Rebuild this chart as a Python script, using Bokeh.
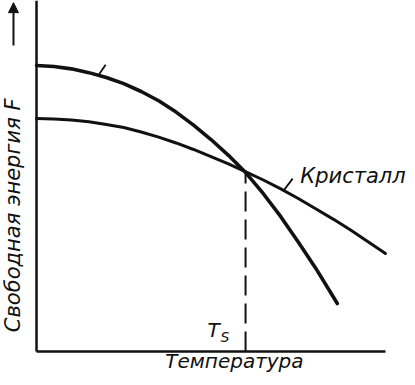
import math
from bokeh.plotting import figure
from bokeh.models import Range1d, Label, Arrow, NormalHead
from bokeh.embed import file_html
from bokeh.resources import INLINE

# ---- data (arbitrary units) ----
temperature_liquid = [0, 0.5, 1, 1.5, 2, 2.5, 3, 3.5, 4, 4.5, 5, 5.5, 6, 6.5, 7, 7.5, 8, 8.62]
energy_liquid = [8.34, 8.31, 8.24, 8.13, 7.99, 7.81, 7.58, 7.31, 6.98, 6.60, 6.18, 5.72, 5.21, 4.60, 3.93, 3.19, 2.43, 1.40]

temperature_crystal = [0, 0.5, 1, 1.5, 2, 2.5, 3, 3.5, 4, 4.5, 5, 5.5, 6, 6.5, 7, 7.5, 8, 8.5, 9, 9.5, 10]
energy_crystal = [6.79, 6.78, 6.75, 6.70, 6.62, 6.53, 6.40, 6.25, 6.08, 5.89, 5.68, 5.47, 5.24, 5.00, 4.74, 4.46, 4.16, 3.86, 3.54, 3.20, 2.86]

ts_temperature = 5.99      # T_S, intersection of the curves
ts_energy = 5.22

axis_x_end = 10.0          # end of the temperature axis
liquid_mark_x = [1.78, 1.98]     # small stroke on the upper curve
liquid_mark_y = [8.06, 8.36]
crystal_leader_x = [7.08, 7.34]  # leader to the label "Кристалл"
crystal_leader_y = [4.69, 5.04]

x_title = "Температура"
y_title = "Свободная энергия F"
crystal_label = "Кристалл"
ts_main, ts_sub = "T", "S"

FONT = "DejaVu Sans"
INK = "#111111"

X_RANGE = Range1d(-1.032, 10.860)
Y_RANGE = Range1d(-0.991, 10.233)

p = figure(width=415, height=385, output_backend="svg", toolbar_location=None,
           x_range=X_RANGE, y_range=Y_RANGE,
           min_border=0)
p.axis.visible = False
p.grid.visible = False
p.outline_line_color = None
p.background_fill_color = "white"
p.border_fill_color = "white"

# axis lines (drawn in data space)
p.segment(x0=[0, 0], y0=[0, 0], x1=[axis_x_end, 0], y1=[0, Y_RANGE.end],
          line_width=2.5, line_color=INK)

# curves
p.line(temperature_liquid, energy_liquid, line_width=3.6, line_color=INK, line_join="round", line_cap="round")
p.line(temperature_crystal, energy_crystal, line_width=3, line_color=INK, line_join="round", line_cap="round")

# dashed T_S line
p.segment(x0=[ts_temperature], y0=[0], x1=[ts_temperature], y1=[ts_energy],
          line_width=2, line_color=INK, line_dash="20 8")

# small strokes
p.line(liquid_mark_x, liquid_mark_y, line_width=1.8, line_color=INK)
p.line(crystal_leader_x, crystal_leader_y, line_width=1.8, line_color=INK)

def lab(x, y, text, size, **kw):
    p.add_layout(Label(x=x, y=y, text=text, text_font=FONT, text_font_style="italic",
                       text_font_size=f"{size}px", text_color=INK, **kw))

lab(7.56, 4.78, crystal_label, 21)
lab(5.67, -0.64, x_title, 20, text_align="center")
lab(4.90, 0.29, ts_main, 20)
lab(5.27, 0.20, ts_sub, 14)
lab(-0.33, 3.97, y_title, 21, text_align="center", angle=math.pi / 2)

# arrow next to the ordinate
p.add_layout(Arrow(x_start=-0.66, y_start=8.92, x_end=-0.66, y_end=10.17,
                   line_width=2, line_color=INK,
                   end=NormalHead(size=10, fill_color=INK, line_color=INK)))

open("out.html", "w").write(file_html(p, INLINE))
